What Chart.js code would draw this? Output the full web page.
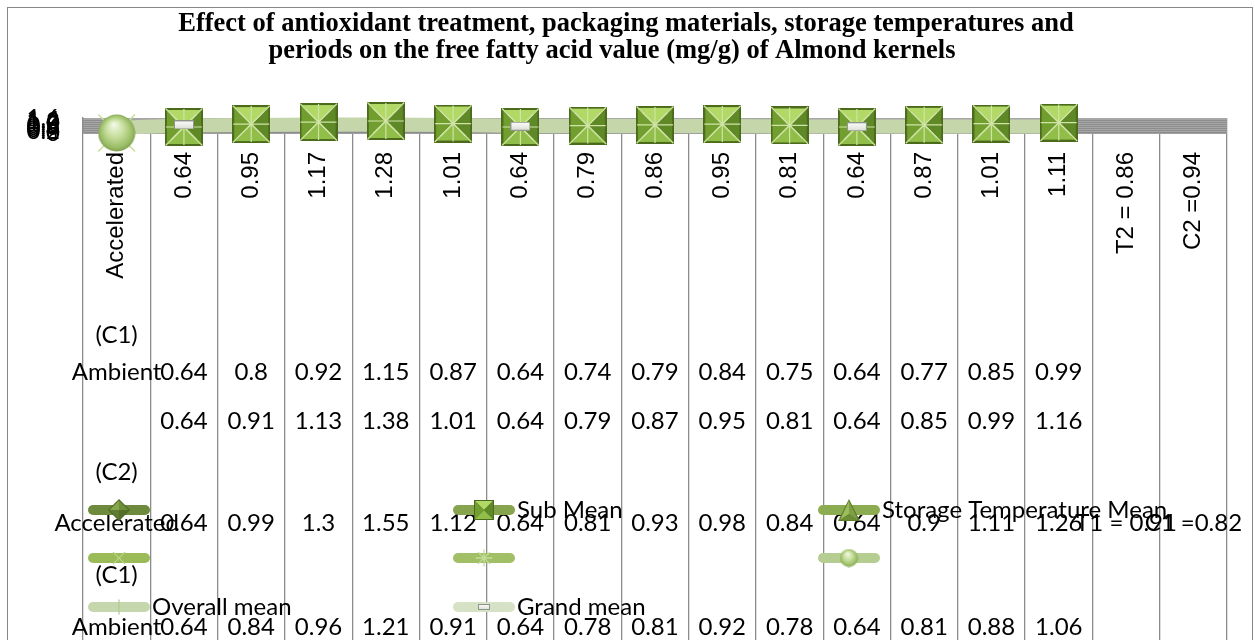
<!DOCTYPE html>
<html>
<head>
<meta charset="utf-8">
<script src="https://cdn.jsdelivr.net/npm/chart.js@4.4.1/dist/chart.umd.min.js"></script>
<style>
  html, body { margin: 0; padding: 0; background: #ffffff; }
  #wrap { position: relative; width: 1255px; height: 640px; overflow: hidden; }
  #frame { position: absolute; left: 7px; top: 7px; width: 1246px; height: 700px; border: 1px solid #878787; box-sizing: border-box; }
  #c { position: absolute; left: 0; top: 0; }
</style>
</head>
<body>
<div id="wrap">
  <div id="frame"></div>
  <canvas id="c" width="1255" height="640"></canvas>
</div>
<script>
// ---- chart text and values ----
const chartTitle = [
  'Effect of antioxidant treatment, packaging materials, storage temperatures and',
  'periods on the free fatty acid value (mg/g) of Almond kernels'
];

const categories = ['Accelerated', '0.64', '0.95', '1.17', '1.28', '1.01', '0.64', '0.79',
  '0.86', '0.95', '0.81', '0.64', '0.87', '1.01', '1.11', 'T2 = 0.86', 'C2 =0.94'];

const yTicks = { min: 0, max: 1.6, step: 0.2 };

// Sub means (one per storage-period column)
const subMean = [null, 0.64, 0.95, 1.17, 1.28, 1.01, 0.64, 0.79, 0.86, 0.95, 0.81, 0.64, 0.87, 1.01, 1.11, null, null];
// marker series that sit on the sub means (first column holds 0)
const crossSeries = [0, 0.64, 0.95, 1.17, 1.28, 1.01, 0.64, 0.79, 0.86, 0.95, 0.81, 0.64, 0.87, 1.01, 1.11, null, null];
const starSeries  = [0, 0.64, 0.95, 1.17, 1.28, 1.01, 0.64, 0.79, 0.86, 0.95, 0.81, 0.64, 0.87, 1.01, 1.11, null, null];
const sphereSeries = [0, null, null, null, null, null, null, null, null, null, null, null, null, null, null, null, null];
const overallMean = [0.55, 0.8, 0.85, 0.9, 0.9, 0.85, 0.75, 0.75, 0.75, 0.75, 0.7, 0.7, 0.7, 0.7, 0.7, null, null];
const grandMean = [null, 0.86, null, null, null, null, 0.72, null, null, null, null, 0.66, null, null, null, null, null];

// data-table rows
const rowAmbientC1 = [0.64, 0.8, 0.92, 1.15, 0.87, 0.64, 0.74, 0.79, 0.84, 0.75, 0.64, 0.77, 0.85, 0.99];
const rowSecond = [0.64, 0.91, 1.13, 1.38, 1.01, 0.64, 0.79, 0.87, 0.95, 0.81, 0.64, 0.85, 0.99, 1.16];
const rowAcceleratedC2 = [0.64, 0.99, 1.3, 1.55, 1.12, 0.64, 0.81, 0.93, 0.98, 0.84, 0.64, 0.9, 1.11, 1.26];
const rowAmbientC1b = [0.64, 0.84, 0.96, 1.21, 0.91, 0.64, 0.78, 0.81, 0.92, 0.78, 0.64, 0.81, 0.88, 1.06];
const temperatureMeans = ['T1 = 0.91', 'C1 =0.82'];

const legendNames = ['', 'Sub Mean', 'Storage Temperature Mean', '', '', '', 'Overall mean', 'Grand mean'];

const tableFont = '24px Lato, "Open Sans", sans-serif';

// ---- marker artwork ----
function makeCanvas(w, h, draw) {
  const c = document.createElement('canvas');
  c.width = w; c.height = h;
  draw(c.getContext('2d'), w, h);
  return c;
}
function poly(g, pts, fill) {
  g.beginPath();
  g.moveTo(pts[0][0], pts[0][1]);
  for (let k = 1; k < pts.length; k++) g.lineTo(pts[k][0], pts[k][1]);
  g.closePath();
  g.fillStyle = fill;
  g.fill();
}
function bevelSquare(s) {
  return makeCanvas(s, s, (g) => {
    const c = s / 2, i = Math.max(1, s * 0.05);
    g.fillStyle = '#4b6a1c';
    g.fillRect(0, 0, s, s);
    poly(g, [[i, i], [s - i, i], [c, c]], '#b2d865');
    poly(g, [[i, s - i], [s - i, s - i], [c, c]], '#91be48');
    poly(g, [[i, i], [i, s - i], [c, c]], '#729e30');
    poly(g, [[s - i, i], [s - i, s - i], [c, c]], '#5f8826');
  });
}
function bevelDiamond(s) {
  return makeCanvas(s, s, (g) => {
    const c = s / 2;
    poly(g, [[c, 0], [s, c], [c, s], [0, c]], '#4f6a24');
    poly(g, [[c, 1.5], [c, c], [1.5, c]], '#86a64d');
    poly(g, [[c, 1.5], [s - 1.5, c], [c, c]], '#6f8e3a');
    poly(g, [[1.5, c], [c, c], [c, s - 1.5]], '#5f7d30');
    poly(g, [[c, c], [s - 1.5, c], [c, s - 1.5]], '#536f29');
  });
}
function bevelTriangle(s) {
  return makeCanvas(s, s, (g) => {
    const c = s / 2;
    poly(g, [[c, 0], [s, s], [0, s]], '#5d7d2b');
    poly(g, [[c, 2], [c, s * 0.68], [2, s - 1]], '#9cbd5c');
    poly(g, [[c, 2], [s - 2, s - 1], [c, s * 0.68]], '#7e9f43');
    poly(g, [[2, s - 1], [c, s * 0.68], [s - 2, s - 1]], '#6c8c37');
  });
}
function sphere(s) {
  return makeCanvas(s, s, (g) => {
    const r = s / 2;
    const grad = g.createRadialGradient(r * 0.85, r * 0.55, r * 0.05, r, r, r);
    grad.addColorStop(0, '#f1f8e4');
    grad.addColorStop(0.45, '#c6de9c');
    grad.addColorStop(0.85, '#98bb64');
    grad.addColorStop(1, '#7c9d4c');
    g.beginPath();
    g.arc(r, r, r - 0.5, 0, Math.PI * 2);
    g.fillStyle = grad;
    g.fill();
  });
}
function dashMark(w, h) {
  return makeCanvas(w, h, (g) => {
    g.fillStyle = '#8f9488';
    g.fillRect(0, 0, w, h);
    const grad = g.createLinearGradient(0, 0, 0, h);
    grad.addColorStop(0, '#ffffff');
    grad.addColorStop(1, '#d9ddd2');
    g.fillStyle = grad;
    g.fillRect(1, 1, w - 2, h - 2);
  });
}

const squareBig = bevelSquare(38), squareSmall = bevelSquare(20);
const sphereBig = sphere(38), sphereSmall = sphere(19);
const diamondSmall = bevelDiamond(22), diamondHidden = bevelDiamond(20);
const triangleSmall = bevelTriangle(22), triangleHidden = bevelTriangle(20);
const dashBig = dashMark(20, 9), dashSmall = dashMark(12, 6);

// ---- datasets (index order = legend order) ----
const datasets = [
  { label: legendNames[0], data: subMean, showLine: false, pointStyle: diamondHidden, order: 6,
    keyLine: '#6e8b3d', keyMarker: diamondSmall },
  { label: legendNames[1], data: subMean, showLine: false, pointStyle: squareBig, order: 4,
    keyLine: '#86a34e', keyMarker: squareSmall },
  { label: legendNames[2], data: subMean, showLine: false, pointStyle: triangleHidden, order: 5,
    keyLine: '#8cac52', keyMarker: triangleSmall },
  { label: legendNames[3], data: crossSeries, showLine: false, pointStyle: 'crossRot', pointRadius: 26,
    pointBorderColor: '#c6df97', pointBorderWidth: 1.4, order: 3,
    keyLine: '#9bbb59', keyMarker: { style: 'crossRot', r: 8, color: '#b9d585' } },
  { label: legendNames[4], data: starSeries, showLine: false, pointStyle: 'star', pointRadius: 18,
    pointBorderColor: '#cfe4a6', pointBorderWidth: 1.2, order: 2,
    keyLine: '#a1bf66', keyMarker: { style: 'star', r: 8, color: '#c4dc98' } },
  { label: legendNames[5], data: sphereSeries, showLine: false, pointStyle: sphereBig, order: 1,
    keyLine: '#b6cd91', keyMarker: sphereSmall },
  { label: legendNames[6], data: overallMean, showLine: true, borderColor: '#c4d6aa', borderWidth: 14,
    borderCapStyle: 'round', borderJoinStyle: 'round', pointRadius: 0, order: 7,
    keyLine: '#c5d7ac', keyMarker: { style: 'line', r: 7, color: '#b5c99a', rot: 90 } },
  { label: legendNames[7], data: grandMean, showLine: false, pointStyle: dashBig, order: 0,
    keyLine: '#d6e2c5', keyMarker: dashSmall }
];
datasets.forEach(d => { d.clip = false; d.tension = 0; d.spanGaps = true; if (d.pointRadius === undefined) d.pointRadius = 10; });

// ---- plugins ----
const plotBackground = {
  id: 'plotBackground',
  beforeDraw(chart) {
    const { ctx, chartArea: a } = chart;
    ctx.save();
    ctx.fillStyle = '#8d8d8d';
    ctx.fillRect(a.left, a.top, a.right - a.left, a.bottom - a.top);
    ctx.restore();
  }
};

const titleText = {
  id: 'titleText',
  afterDraw(chart) {
    const ctx = chart.ctx;
    ctx.save();
    ctx.fillStyle = '#000';
    ctx.font = 'bold 26.5px "Liberation Serif", "Times New Roman", serif';
    ctx.textAlign = 'center';
    ctx.textBaseline = 'middle';
    ctx.fillText(chartTitle[0], 626, 24);
    ctx.fillText(chartTitle[1], 612, 51);
    ctx.restore();
  }
};

const dataTable = {
  id: 'dataTable',
  afterDraw(chart) {
    const ctx = chart.ctx, x = chart.scales.x;
    const col = (i) => x.getPixelForValue(i);
    const rows = [
      { y: 335, head: '(C1)' },
      { y: 372, head: 'Ambient', values: rowAmbientC1 },
      { y: 421, head: '', values: rowSecond },
      { y: 472, head: '(C2)' },
      { y: 523, head: 'Accelerated', values: rowAcceleratedC2, tail: temperatureMeans },
      { y: 575, head: '(C1)' },
      { y: 627, head: 'Ambient', values: rowAmbientC1b }
    ];
    ctx.save();
    ctx.fillStyle = '#000';
    ctx.font = tableFont;
    ctx.textAlign = 'center';
    ctx.textBaseline = 'middle';
    rows.forEach(r => {
      if (r.head) ctx.fillText(r.head, col(0), r.y);
      if (r.values) r.values.forEach((v, i) => ctx.fillText(String(v), col(i + 1), r.y));
      if (r.tail) r.tail.forEach((t, i) => ctx.fillText(t, col(15 + i), r.y));
    });
    ctx.restore();
  }
};

const overlayLegend = {
  id: 'overlayLegend',
  afterDraw(chart) {
    const ctx = chart.ctx;
    const colX = [88, 453, 818], rowY = [510, 558, 607], lineLen = 62;
    ctx.save();
    chart.data.datasets.forEach((d, i) => {
      const x0 = colX[i % 3], y = rowY[Math.floor(i / 3)];
      ctx.strokeStyle = d.keyLine;
      ctx.lineWidth = 10;
      ctx.lineCap = 'round';
      ctx.beginPath();
      ctx.moveTo(x0 + 5, y);
      ctx.lineTo(x0 + lineLen - 5, y);
      ctx.stroke();
      const cx = x0 + lineLen / 2;
      const m = d.keyMarker;
      if (m instanceof HTMLCanvasElement) {
        ctx.drawImage(m, cx - m.width / 2, y - m.height / 2);
      } else if (m) {
        ctx.strokeStyle = m.color;
        ctx.lineWidth = 1.3;
        ctx.beginPath();
        Chart.helpers.drawPoint(ctx, { pointStyle: m.style, radius: m.r, borderWidth: 1.3, rotation: m.rot || 0 }, cx, y);
      }
      if (d.label) {
        ctx.fillStyle = '#000';
        ctx.font = tableFont;
        ctx.textAlign = 'left';
        ctx.textBaseline = 'middle';
        ctx.fillText(d.label, x0 + lineLen + 2, y);
      }
    });
    ctx.restore();
  }
};

// ---- chart ----
new Chart(document.getElementById('c'), {
  type: 'line',
  data: { labels: categories, datasets },
  options: {
    responsive: false,
    animation: false,
    events: [],
    layout: { padding: { left: 0, right: 28, top: 118, bottom: 0 } },
    plugins: { legend: { display: false }, title: { display: false }, tooltip: { enabled: false } },
    scales: {
      x: {
        type: 'category',
        offset: true,
        grid: { offset: true, color: '#8c8c8c', lineWidth: 1.3, tickLength: 507, tickColor: '#8c8c8c', drawTicks: true },
        border: { color: '#8c8c8c', width: 1.3 },
        ticks: {
          autoSkip: false, minRotation: 90, maxRotation: 90, padding: 19 - 507,
          color: '#000', font: { family: '"Liberation Sans", Arial, sans-serif', size: 24 }
        },
        afterFit(scale) { scale.height = 507; }
      },
      y: {
        min: yTicks.min, max: yTicks.max,
        grid: { color: '#a6a6a6', lineWidth: 1, drawTicks: false },
        border: { color: '#8c8c8c', width: 1.3 },
        ticks: {
          stepSize: yTicks.step, autoSkip: false, padding: 23,
          color: '#000', font: { family: 'Lato, "Open Sans", sans-serif', size: 24 }
        },
        afterFit(scale) { scale.width = 83; }
      }
    }
  },
  plugins: [plotBackground, dataTable, overlayLegend, titleText]
});
</script>
</body>
</html>
